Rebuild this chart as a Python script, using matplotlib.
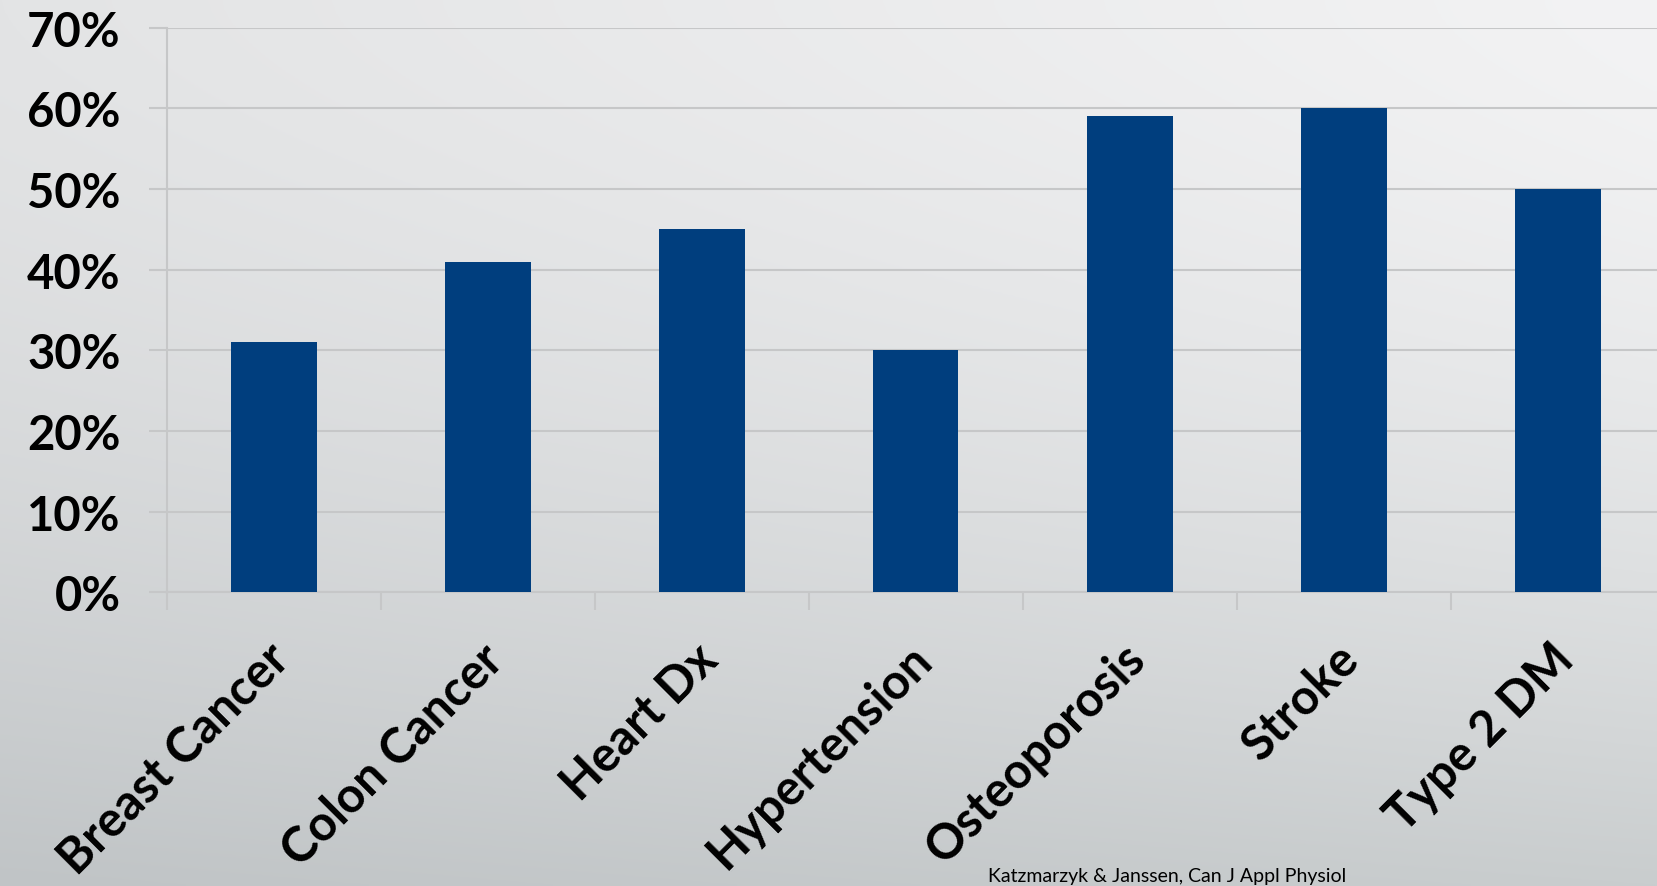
import matplotlib
matplotlib.use("Agg")
import matplotlib.pyplot as plt
import numpy as np
import matplotlib.transforms as mtransforms

categories = ["Breast Cancer", "Colon Cancer", "Heart Dx", "Hypertension",
              "Osteoporosis", "Stroke", "Type 2 DM"]
values = [31, 41, 45, 30, 59, 60, 50]
yticks = [0, 10, 20, 30, 40, 50, 60, 70]
ytick_labels = ["0%", "10%", "20%", "30%", "40%", "50%", "60%", "70%"]
source_text = "Katzmarzyk & Janssen, Can J Appl Physiol"

W, H = 1657, 887
fig = plt.figure(figsize=(W / 100, H / 100), dpi=100)

# background gradient: corner colours (top-left, top-right, bottom-left, bottom-right)
TL = np.array([227, 228, 229]) / 255
TR = np.array([243, 243, 244]) / 255
BL = np.array([192, 196, 198]) / 255
BR = np.array([201, 205, 206]) / 255
bg = fig.add_axes([0, 0, 1, 1], zorder=-10)
xx, yy = np.meshgrid(np.linspace(0, 1, 400), np.linspace(0, 1, 300))
ty = yy ** 1.6
top_row = TL[None, None, :] * (1 - xx[..., None]) + TR[None, None, :] * xx[..., None]
bot_row = BL[None, None, :] * (1 - xx[..., None]) + BR[None, None, :] * xx[..., None]
img = top_row * (1 - ty[..., None]) + bot_row * ty[..., None]
bg.imshow(np.clip(img, 0, 1), aspect="auto", extent=[0, 1, 0, 1],
          origin="upper")
bg.axis("off")

left = 166.7 / W
bottom = (H - 593.3) / H
top = (H - 28.7) / H
right = 1664.7 / W
ax = fig.add_axes([left, bottom, right - left, top - bottom])
ax.set_facecolor("none")

x = np.arange(len(categories))
ax.bar(x, values, width=0.4, color="#003e7e", zorder=3)

ax.set_xlim(-0.5, len(categories) - 0.5)
ax.set_ylim(0, 70)
ax.set_yticks(yticks)
ax.set_yticklabels(ytick_labels, fontfamily="Lato", fontweight="bold",
                   fontsize=34)
ax.yaxis.grid(True, color="#c6c7c8", linewidth=1.5, zorder=0)
ax.set_axisbelow(True)

for s in ["top", "right"]:
    ax.spines[s].set_visible(False)
ax.spines["left"].set_color("#c6c7c8")
ax.spines["left"].set_linewidth(1.5)
ax.spines["bottom"].set_color("#c6c7c8")
ax.spines["bottom"].set_linewidth(1.5)

ax.tick_params(axis="y", length=13, width=1.5, color="#c6c7c8", pad=20)
ax.set_xticks(np.arange(len(categories) + 1) - 0.5, minor=False)
ax.set_xticklabels([])
ax.tick_params(axis="x", which="major", length=13, width=1.5,
               color="#c6c7c8")
ax.set_xticks(x, minor=True)
ax.set_xticklabels(categories, minor=True, rotation=45, ha="right",
                   va="top", rotation_mode="anchor", fontfamily="Lato",
                   fontweight="bold", fontsize=35)
ax.tick_params(axis="x", which="minor", length=0, pad=31)
offset = mtransforms.ScaledTranslation(-8 / 100, 0, fig.dpi_scale_trans)
for lab in ax.get_xticklabels(minor=True):
    lab.set_transform(lab.get_transform() + offset)

fig.text(988 / W, 2 / H, source_text, fontfamily="Lato",
         fontsize=14, va="bottom", ha="left", color="#000000")

fig.savefig("out.png", dpi=100)
